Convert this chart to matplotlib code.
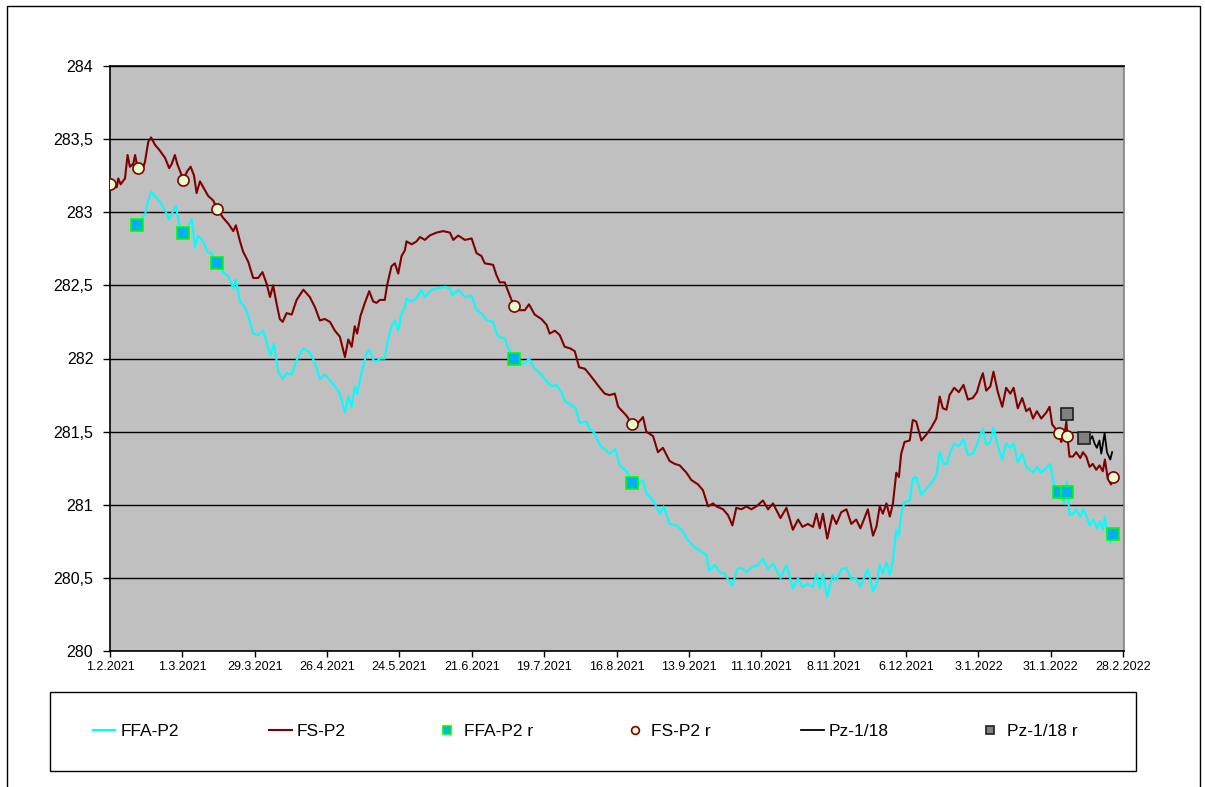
import pandas as pd
import matplotlib
matplotlib.use('Agg')
import matplotlib.pyplot as plt
from matplotlib.patches import Rectangle
from matplotlib.ticker import FuncFormatter

plt.rcParams['font.family'] = ['Liberation Sans', 'DejaVu Sans']

start = pd.Timestamp('2021-02-01')

# FS-P2 (dark red), days after 1.2.2021
fs_day = [0, 2.6, 3.2, 4.1, 5.8, 6.8, 7.7, 9.0, 9.7, 10.7, 12.9, 13.5, 14.8, 15.9, 17.4, 19.3,
          21.3, 22.9, 23.9, 25.1, 26.0, 27.1, 28.3, 29.9, 31.2, 32.5, 33.5, 34.8, 36.7, 38.0,
          39.9, 41.5, 43.8, 45.8, 47.7, 48.7, 50.3, 51.5, 53.5, 55.4, 57.3, 59.0, 60.6, 61.9,
          63.1, 64.5, 65.7, 66.8, 68.3, 70.3, 72.2, 74.8, 77.3, 79.3, 81.2, 83.1, 85.1, 87.0,
          88.9, 90.9, 92.2, 93.5, 94.7, 95.6, 96.9, 98.6, 100.3, 101.8, 103.1, 104.4, 106.3,
          107.2, 108.9, 110.2, 111.5, 112.8, 114.1, 114.7, 116.7, 118.6, 119.9, 121.8, 123.7,
          126.3, 128.9, 131.5, 132.8, 134.7, 137.3, 139.9, 141.8, 143.7, 145.0, 148.2, 149.5,
          150.8, 152.7, 154.0, 156.2, 158.5, 160.5, 162.1, 164.3, 166.9, 168.9, 170.1, 172.1,
          174.0, 175.9, 177.9, 179.8, 181.5, 183.7, 185.6, 188.2, 189.5, 191.4, 193.3, 195.3,
          196.6, 199.8, 202.1, 204.3, 206.2, 207.5, 210.1, 212.0, 213.9, 216.5, 218.5, 220.4,
          223.0, 224.9, 227.5, 229.4, 231.4, 233.3, 234.6, 237.2, 239.1, 240.8, 242.3, 244.3,
          246.2, 248.1, 250.1, 252.6, 254.6, 256.5, 259.4, 261.7, 264.2, 266.2, 267.9, 270.0,
          272.0, 273.3, 274.6, 275.8, 277.5, 279.5, 281.0, 282.9, 284.9, 286.8, 288.7, 290.3,
          291.9, 293.2, 295.2, 296.5, 297.8, 299.0, 300.4, 301.7, 302.9, 304.2, 305.2, 306.1,
          307.4, 309.4, 310.6, 311.9, 313.9, 315.8, 317.8, 319.7, 321.0, 322.2, 323.6, 324.8,
          326.6, 328.4, 330.2, 331.9, 333.8, 335.4, 336.7, 337.7, 339.0, 340.6, 341.8, 343.5,
          345.2, 346.7, 348.3, 349.6, 351.2, 352.9, 354.5, 355.8, 357.1, 358.6, 360.3, 362.2,
          363.5, 364.5, 365.8, 367.1, 368.0, 369.3, 370.0, 370.4, 371.2, 372.5, 373.8, 375.4,
          376.4, 377.7, 379.0, 380.2, 381.6, 382.8, 384.1, 384.9, 386.0, 387.3, 388.2]
fs_val = [283.19, 283.17, 283.23, 283.19, 283.23, 283.39, 283.31, 283.33, 283.39, 283.30,
          283.31, 283.34, 283.48, 283.51, 283.46, 283.42, 283.37, 283.30, 283.33, 283.39,
          283.33, 283.28, 283.22, 283.28, 283.31, 283.25, 283.13, 283.21, 283.15, 283.11,
          283.08, 283.02, 282.96, 282.92, 282.87, 282.91, 282.80, 282.73, 282.66, 282.55,
          282.55, 282.59, 282.51, 282.42, 282.50, 282.37, 282.27, 282.25, 282.31, 282.30,
          282.40, 282.47, 282.42, 282.35, 282.26, 282.27, 282.25, 282.19, 282.15, 282.01,
          282.13, 282.08, 282.22, 282.17, 282.29, 282.38, 282.46, 282.39, 282.38, 282.40,
          282.40, 282.50, 282.63, 282.65, 282.58, 282.70, 282.74, 282.80, 282.78, 282.80,
          282.83, 282.81, 282.84, 282.86, 282.87, 282.86, 282.81, 282.84, 282.81, 282.82,
          282.72, 282.70, 282.65, 282.64, 282.57, 282.52, 282.52, 282.46, 282.36, 282.33,
          282.33, 282.37, 282.30, 282.27, 282.23, 282.17, 282.19, 282.16, 282.08, 282.07,
          282.05, 281.94, 281.93, 281.89, 281.83, 281.80, 281.76, 281.75, 281.76, 281.67,
          281.61, 281.55, 281.56, 281.60, 281.50, 281.47, 281.36, 281.39, 281.30, 281.28,
          281.27, 281.22, 281.17, 281.14, 281.10, 280.99, 281.01, 280.99, 280.97, 280.93,
          280.86, 280.98, 280.97, 280.99, 280.97, 280.99, 281.03, 280.97, 281.01, 280.91,
          280.98, 280.83, 280.90, 280.85, 280.87, 280.85, 280.94, 280.84, 280.94, 280.77,
          280.93, 280.87, 280.95, 280.97, 280.87, 280.90, 280.84, 280.91, 280.97, 280.79,
          280.85, 280.99, 280.94, 281.01, 280.92, 281.01, 281.22, 281.19, 281.35, 281.43,
          281.44, 281.58, 281.57, 281.44, 281.48, 281.53, 281.59, 281.74, 281.66, 281.65,
          281.75, 281.80, 281.77, 281.82, 281.72, 281.73, 281.77, 281.85, 281.90, 281.78,
          281.81, 281.91, 281.77, 281.67, 281.80, 281.76, 281.80, 281.66, 281.73, 281.64,
          281.66, 281.59, 281.64, 281.59, 281.63, 281.67, 281.55, 281.52, 281.49, 281.43,
          281.48, 281.57, 281.47, 281.33, 281.33, 281.36, 281.32, 281.36, 281.33, 281.26,
          281.28, 281.24, 281.27, 281.23, 281.31, 281.18, 281.14, 281.19]

# FFA-P2 (cyan)
ffa_day = [10.6, 11.6, 13.5, 14.8, 15.9, 17.4, 19.3, 21.3, 22.8, 24.2, 25.5, 26.7, 28.3, 30.3,
           31.6, 32.9, 34.1, 36.1, 37.6, 39.3, 41.3, 43.8, 45.8, 47.7, 48.7, 50.3, 52.2, 53.5,
           55.4, 57.3, 59.3, 60.6, 62.1, 63.4, 65.1, 66.8, 68.3, 70.3, 72.2, 74.8, 77.3, 79.3,
           81.2, 83.1, 85.1, 87.0, 88.9, 90.9, 92.2, 93.5, 94.7, 95.6, 97.3, 99.3, 100.3, 101.8,
           103.1, 104.4, 106.3, 107.2, 108.9, 110.2, 111.5, 112.8, 114.1, 114.7, 116.7, 118.6,
           120.5, 121.8, 124.4, 127.0, 129.5, 131.5, 132.5, 134.7, 137.3, 139.9, 141.8, 143.7,
           145.7, 148.2, 149.8, 151.5, 152.7, 154.0, 156.2, 159.2, 160.5, 162.1, 164.3, 166.9,
           169.1, 170.8, 172.7, 174.7, 175.9, 178.5, 180.2, 181.7, 184.3, 185.6, 187.5, 189.5,
           191.4, 193.3, 195.5, 197.2, 199.8, 202.1, 204.3, 206.2, 207.5, 210.1, 212.7, 214.2,
           216.5, 219.1, 221.1, 223.6, 226.2, 228.8, 230.7, 231.8, 234.0, 235.9, 237.8, 239.1,
           240.8, 242.6, 244.3, 246.2, 248.1, 250.7, 252.6, 254.6, 256.5, 259.4, 261.7, 264.2,
           266.2, 267.9, 270.0, 272.0, 273.3, 274.6, 275.8, 277.5, 279.5, 281.0, 282.9, 284.9,
           286.8, 288.7, 290.3, 291.9, 293.2, 295.2, 296.5, 297.8, 299.0, 300.4, 301.7, 302.9,
           304.2, 305.2, 306.1, 307.4, 309.4, 310.6, 311.9, 313.9, 315.8, 317.8, 319.7, 321.0,
           322.5, 323.8, 325.1, 326.6, 328.4, 330.2, 331.9, 333.8, 335.4, 336.7, 337.7, 339.0,
           340.6, 341.8, 343.5, 345.2, 346.7, 348.3, 349.6, 351.2, 352.9, 354.5, 355.8, 357.1,
           358.6, 360.3, 362.2, 363.8, 364.8, 365.8, 367.1, 368.0, 369.3, 370.2, 371.2, 372.5,
           373.8, 375.4, 376.6, 377.9, 379.0, 380.5, 381.8, 383.1, 384.1, 384.9, 386.0, 387.1,
           388.0]
ffa_val = [282.91, 282.95, 282.98, 283.08, 283.14, 283.11, 283.07, 283.01, 282.95, 283.00,
           283.04, 282.92, 282.86, 282.91, 282.95, 282.76, 282.84, 282.80, 282.73, 282.72,
           282.65, 282.59, 282.56, 282.48, 282.54, 282.39, 282.35, 282.29, 282.17, 282.16,
           282.19, 282.11, 282.02, 282.10, 281.91, 281.86, 281.90, 281.89, 281.99, 282.07,
           282.04, 281.97, 281.86, 281.89, 281.85, 281.81, 281.76, 281.63, 281.74, 281.67,
           281.81, 281.76, 281.90, 282.04, 282.06, 281.99, 281.98, 282.00, 282.00, 282.10,
           282.22, 282.26, 282.19, 282.31, 282.35, 282.41, 282.39, 282.41, 282.47, 282.42,
           282.47, 282.48, 282.49, 282.48, 282.43, 282.47, 282.42, 282.43, 282.33, 282.31,
           282.26, 282.25, 282.16, 282.14, 282.14, 282.07, 282.00, 281.96, 281.97, 282.00,
           281.93, 281.89, 281.84, 281.81, 281.82, 281.77, 281.71, 281.68, 281.66, 281.56,
           281.57, 281.52, 281.49, 281.41, 281.38, 281.35, 281.38, 281.27, 281.23, 281.15,
           281.14, 281.17, 281.08, 281.03, 280.94, 280.99, 280.87, 280.86, 280.83, 280.76,
           280.71, 280.68, 280.66, 280.55, 280.59, 280.54, 280.53, 280.49, 280.45, 280.56,
           280.57, 280.54, 280.57, 280.59, 280.63, 280.56, 280.60, 280.50, 280.59, 280.43,
           280.50, 280.44, 280.46, 280.44, 280.53, 280.43, 280.53, 280.37, 280.52, 280.48,
           280.56, 280.57, 280.49, 280.50, 280.44, 280.51, 280.56, 280.41, 280.46, 280.59,
           280.53, 280.61, 280.52, 280.62, 280.83, 280.79, 280.94, 281.02, 281.03, 281.18,
           281.19, 281.07, 281.11, 281.15, 281.20, 281.36, 281.28, 281.28, 281.36, 281.42,
           281.40, 281.45, 281.34, 281.35, 281.41, 281.48, 281.52, 281.41, 281.43, 281.53,
           281.40, 281.31, 281.42, 281.39, 281.42, 281.29, 281.35, 281.26, 281.24, 281.22,
           281.26, 281.22, 281.25, 281.28, 281.17, 281.11, 281.09, 281.06, 281.01, 281.16,
           280.93, 280.94, 280.97, 280.92, 280.97, 280.92, 280.86, 280.90, 280.84, 280.89,
           280.83, 280.92, 280.78, 280.74, 280.80]

# Pz-1/18 (black)
pz_day = [377.0, 379.0, 380.0, 380.9, 381.8, 382.8, 383.5, 384.8, 385.7, 387.0, 387.7]
pz_val = [281.46, 281.44, 281.47, 281.42, 281.39, 281.44, 281.35, 281.49, 281.36, 281.31, 281.36]

# point markers
ffa_r_day = [10.6, 28.3, 41.3, 156.2, 202.1, 367.1, 370.2, 388.0]
ffa_r_val = [282.91, 282.86, 282.65, 282.00, 281.15, 281.09, 281.09, 280.80]
fs_r_day = [0, 10.7, 28.3, 41.5, 156.2, 202.1, 367.1, 370.2, 388.2]
fs_r_val = [283.19, 283.30, 283.22, 283.02, 282.36, 281.55, 281.49, 281.47, 281.19]
pz_r_day = [370.2, 377.0]
pz_r_val = [281.62, 281.46]

tick_days = list(range(0, 393, 28))


def to_date(days):
    return start + pd.to_timedelta(pd.Series(days, dtype=float), unit='D')


W, H = 1205, 787
fig = plt.figure(figsize=(W / 100, H / 100), dpi=100)
# outer chart border
fig.patches.append(Rectangle((7 / W, -0.01), 1193 / W, (H - 6) / H + 0.01,
                             transform=fig.transFigure, fill=False, edgecolor='black',
                             linewidth=1.0, zorder=0))
# legend box
fig.patches.append(Rectangle((50 / W, (H - 771) / H), 1086 / W, 79 / H,
                             transform=fig.transFigure, fill=False, edgecolor='black',
                             linewidth=1.0, zorder=0))

ax = fig.add_axes([110 / W, (H - 651.3) / H, (1124 - 110) / W, (651.3 - 65.7) / H])
ax.set_facecolor('#C0C0C0')

ax.plot(to_date(ffa_day), ffa_val, color='#00FFFF', lw=1.5, label='FFA-P2', zorder=3)
ax.plot(to_date(fs_day), fs_val, color='#800000', lw=1.5, label='FS-P2', zorder=3)
ax.plot(to_date(ffa_r_day), ffa_r_val, ls='none', marker='s', ms=8, mfc='#00B0F0',
        mec='#00FF00', mew=1.2, label='FFA-P2 r', zorder=5)
ax.plot(to_date(fs_r_day), fs_r_val, ls='none', marker='o', ms=8, mfc='#E6FFCC',
        mec='#800000', mew=1.2, label='FS-P2 r', zorder=5)
ax.plot(to_date(pz_day), pz_val, color='black', lw=1.3, label='Pz-1/18', zorder=4)
ax.plot(to_date(pz_r_day), pz_r_val, ls='none', marker='s', ms=8, mfc='#808080',
        mec='#202020', mew=1.2, label='Pz-1/18 r', zorder=5)

ax.set_ylim(280, 284)
ax.set_yticks([280 + 0.5 * i for i in range(9)])
ax.yaxis.set_major_formatter(FuncFormatter(lambda v, p: f'{v:g}'.replace('.', ',')))
ax.grid(axis='y', color='black', lw=1.0)
ax.set_axisbelow(True)

tick_dates = to_date(tick_days)
ax.set_xlim(to_date([0]).iloc[0], to_date([392.3]).iloc[0])
ax.set_xticks(list(tick_dates))
ax.set_xticklabels([f'{d.day}.{d.month}.{d.year}' for d in tick_dates])

ax.tick_params(axis='x', direction='out', length=4, width=1, labelsize=9, pad=3)
ax.tick_params(axis='y', direction='out', length=5, width=1, labelsize=11.5, pad=7)
for side in ['left', 'bottom', 'top']:
    ax.spines[side].set_color('black')
    ax.spines[side].set_linewidth(1.2)
ax.spines['right'].set_color('#808080')
ax.spines['right'].set_linewidth(1.2)

leg = fig.legend(loc='center', ncol=6, bbox_to_anchor=(585 / W, (H - 731) / H),
                 frameon=False, fontsize=12.5, handlelength=1.3, handletextpad=0.3,
                 columnspacing=5.2, markerscale=0.7, borderpad=0, borderaxespad=0)

fig.savefig('out.png', dpi=100)
